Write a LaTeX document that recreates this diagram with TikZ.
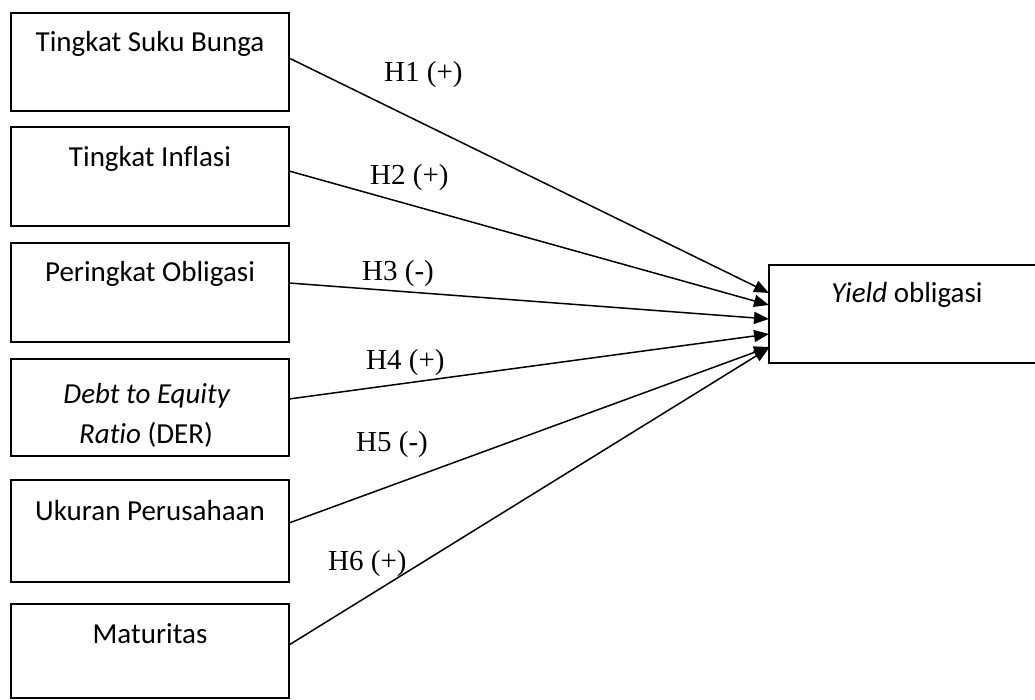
\documentclass[tikz,border=0pt]{standalone}
\usepackage{fontspec}
\setmainfont{Carlito}[Ligatures=NoCommon]
\newfontfamily\hfont{Liberation Serif}
\usetikzlibrary{arrows.meta}
\begin{document}
\begin{tikzpicture}[x=1pt,y=-1pt,
 box/.style={draw, line width=1.5pt, rectangle, inner sep=0pt, outer sep=0pt, anchor=north west, minimum width=278pt},
 lbl/.style={font=\fontsize{29}{40}\selectfont, anchor=base, inner sep=0pt},
 hyp/.style={font=\hfont\fontsize{29}{35}\selectfont, anchor=base west, inner sep=0pt},
 link/.style={line width=1.5pt, -{Triangle[length=15pt,width=12pt]}}]
\useasboundingbox (0,0) rectangle (1035,700);
\clip (0,0) rectangle (1035,700);
% boxes
\node[box, minimum height=98pt] (b1) at (11,13) {};
\node[box, minimum height=99pt] (b2) at (11,127) {};
\node[box, minimum height=99pt] (b3) at (11,243) {};
\node[box, minimum height=97pt] (b4) at (11,359) {};
\node[box, minimum height=102pt] (b5) at (11,480) {};
\node[box, minimum height=94pt] (b6) at (11,604) {};
\node[box, minimum width=290pt, minimum height=98pt] (Y) at (769,265) {};
% texts
\node[lbl] (t1) at (150,52) {Tingkat Suku Bunga};
\node[lbl] (t2) at (150,167) {Tingkat Inflasi};
\node[lbl] (t3) at (150,282) {Peringkat Obligasi};
\node[lbl] (t4a) at (147,403) {\textit{Debt to Equity}};
\node[lbl] (t4b) at (146,443) {\textit{Ratio} (DER)};
\node[lbl] (t5) at (150,520) {Ukuran Perusahaan};
\node[lbl] (t6) at (150,643) {Maturitas};
\node[lbl] (ty) at (907,303) {\textit{Yield} obligasi};
% connectors
\draw[link] ([yshift=4pt]b1.east) -- ([yshift=21pt]Y.west);
\draw[link] ([yshift=5.5pt]b2.east) -- ([yshift=9pt]Y.west);
\draw[link] ([yshift=9.5pt]b3.east) -- ([yshift=-5pt]Y.west);
\draw[link] ([yshift=8.5pt]b4.east) -- ([yshift=-20pt]Y.west);
\draw[link] ([yshift=8pt]b5.east) -- ([yshift=-33pt]Y.west);
\draw[link] ([yshift=6pt]b6.east) -- ([yshift=-34pt]Y.west);
% hypothesis labels
\node[hyp] (h1) at (384,82) {H1 (+)};
\node[hyp] (h2) at (370,185) {H2 (+)};
\node[hyp] (h3) at (362,281) {H3 (-)};
\node[hyp] (h4) at (366,369) {H4 (+)};
\node[hyp] (h5) at (356,451) {H5 (-)};
\node[hyp] (h6) at (328,570) {H6 (+)};
\end{tikzpicture}
\end{document}
